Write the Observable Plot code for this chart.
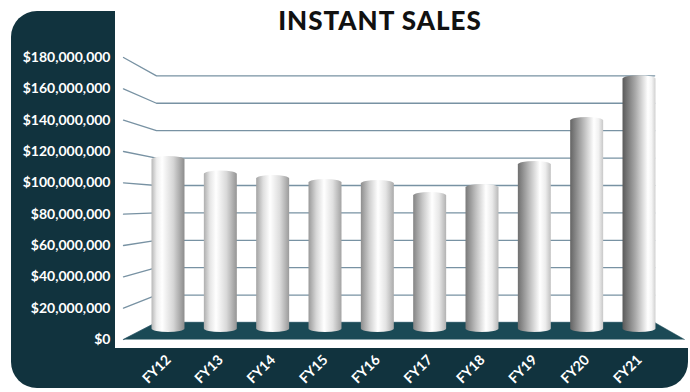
<!DOCTYPE html>
<html><head><meta charset="utf-8">
<script src="https://cdn.jsdelivr.net/npm/d3@7"></script>
<script src="https://cdn.jsdelivr.net/npm/@observablehq/plot@0.6"></script>
<style>
html,body{margin:0;padding:0;background:#fff;}
#wrap{position:relative;width:690px;height:392px;overflow:hidden;font-family:Lato,sans-serif;}
#dark{position:absolute;left:11px;top:11px;width:677px;height:377px;background:#11333e;border-radius:26px;}
#white{position:absolute;left:115px;top:0;width:575px;height:348px;background:#fff;}
#title{position:absolute;left:115px;width:530px;top:4px;text-align:center;font-family:Lato,sans-serif;font-weight:900;font-size:26px;letter-spacing:1px;color:#111;}
#chart{position:absolute;left:0;top:0;}
</style></head>
<body>
<div id="wrap">
  <div id="dark"></div>
  <div id="white"></div>
  <div id="title">INSTANT SALES</div>
  <div id="chart"></div>
</div>
<script>
// ---- data ----
const categories = ["FY12","FY13","FY14","FY15","FY16","FY17","FY18","FY19","FY20","FY21"];
const sales = [120e6, 110e6, 107e6, 104.3e6, 103.6e6, 95.4e6, 100.9e6, 116.5e6, 146.5e6, 175e6];
const yTicks = [0, 20e6, 40e6, 60e6, 80e6, 100e6, 120e6, 140e6, 160e6, 180e6];

// ---- 3D projection helpers (value space of the front axis) ----
const back = v => 10.85e6 + 0.8746 * v;   // back wall plane
const mid  = v => 4.47e6 + 0.9368 * v;    // plane where the cylinders stand
const xFrontL = -0.86, xBackL = -0.23, xBackR = 9.29, xFrontR = 9.86;
const halfW = 0.315;

const gridPts = yTicks.flatMap(t => [
  {k: t, x: xFrontL, y: t},
  {k: t, x: xBackL, y: back(t)},
  {k: t, x: xBackR, y: back(t)}
]);
const floorPts = [
  {x: xFrontL, y: 0}, {x: xBackL, y: back(0)}, {x: xBackR, y: back(0)}, {x: xFrontR, y: 0}
];
const bars = sales.map((v, i) => ({i, v}));

const svg = Plot.plot({
  width: 690, height: 392,
  marginLeft: 123, marginBottom: 46, marginTop: 0, marginRight: 0,
  x: {domain: [0, 9], range: [168, 639]},
  y: {domain: [0, 180e6], range: [339, 57]},
  style: {background: "transparent", fontFamily: "Lato, sans-serif", fontSize: "14px", fontWeight: "bold"},
  marks: [
    Plot.line(gridPts, {x: "x", y: "y", z: "k", stroke: "#7892a3", strokeWidth: 1.3}),
    Plot.line(floorPts, {x: "x", y: "y", fill: "#1b4a56", stroke: "#1b4a56", strokeWidth: 0.5}),
    ...bars.map(d => Plot.rect([d], {
      x1: b => b.i - halfW, x2: b => b.i + halfW,
      y1: () => mid(0), y2: b => mid(b.v),
      rx: 16.5, ry: 3.5, fill: `url(#cyl${d.i})`
    })),
    Plot.axisY(yTicks, {anchor: "left", tickSize: 0, tickPadding: 13, color: "white",
      tickFormat: d => "$" + d3.format(",")(d), label: null, fontSize: 14}),
    Plot.axisX(d3.range(categories.length), {anchor: "bottom", tickSize: 0, tickPadding: 11,
      tickRotate: -45, color: "white", tickFormat: i => categories[i], label: null, fontSize: 14})
  ]
});

const defs = d3.select(svg).insert("defs", ":first-child");
sales.forEach((_, i) => {
  const t = i / 9;
  const g = defs.append("linearGradient").attr("id", "cyl" + i)
    .attr("x1", 0).attr("x2", 1).attr("y1", 0).attr("y2", 0);
  const hi = 0.32 + 0.45 * t;
  g.append("stop").attr("offset", 0).attr("stop-color", d3.interpolateRgb("#b8b8b8", "#5a5a5a")(t));
  g.append("stop").attr("offset", hi * 0.5).attr("stop-color", d3.interpolateRgb("#eeeeee", "#a8a8a8")(t));
  g.append("stop").attr("offset", hi).attr("stop-color", "#ffffff");
  g.append("stop").attr("offset", (hi + 1) / 2).attr("stop-color", d3.interpolateRgb("#d6d6d6", "#f4f4f4")(t));
  g.append("stop").attr("offset", 1).attr("stop-color", d3.interpolateRgb("#8c8c8c", "#d0d0d0")(t));
});
document.getElementById("chart").appendChild(svg);
</script>
</body></html>
